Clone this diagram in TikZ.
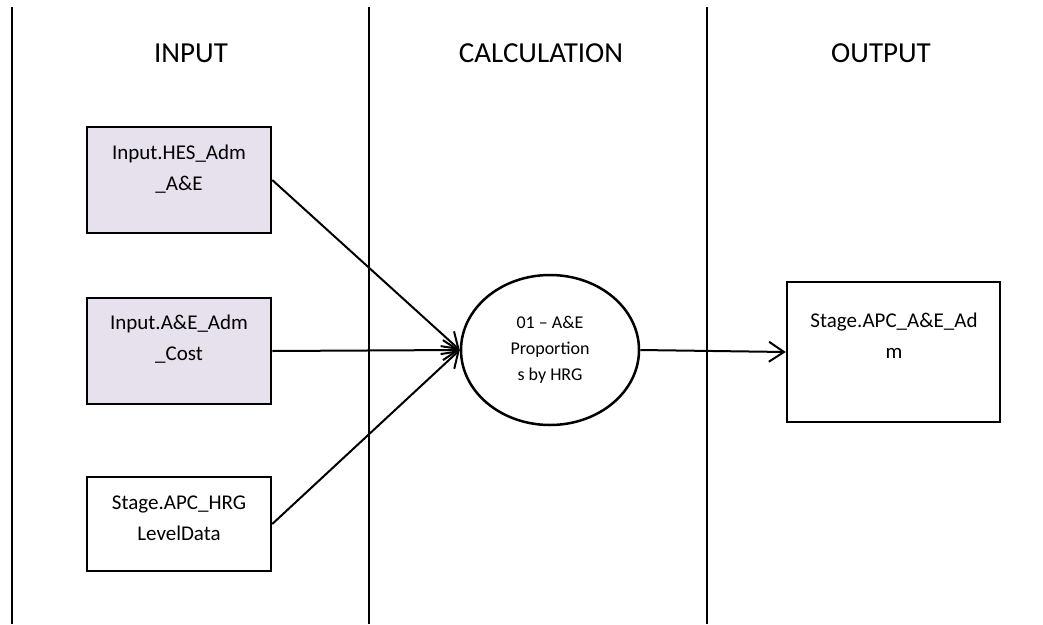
\documentclass[tikz,border=0pt]{standalone}
\usepackage{fontspec}
\setmainfont{Carlito}
\usetikzlibrary{arrows.meta,shapes.geometric}
\definecolor{infill}{RGB}{230,225,237}
\begin{document}
\begin{tikzpicture}[x=1pt,y=-1pt,
  divider/.style={line width=1.5pt,black},
  heading/.style={font=\fontsize{29}{34}\selectfont, anchor=base, inner sep=0pt},
  databox/.style={draw=black, line width=2.5pt, minimum width=184pt, inner sep=0pt},
  inputbox/.style={databox, fill=infill},
  boxtext/.style={font=\fontsize{21}{30.5}\selectfont, align=center, anchor=base, inner sep=0pt},
  process/.style={ellipse, draw=black, line width=2.5pt, minimum width=178pt, minimum height=150pt,
    inner sep=0pt, align=center, font=\fontsize{18}{26}\selectfont},
  flow/.style={line width=2pt, -{Straight Barb[length=15pt,width=20pt,line width=2pt]}}
]
\useasboundingbox (0,0) rectangle (1043,624);

% column dividers
\draw[divider] (12,7) -- (12,624);
\draw[divider] (369,7) -- (369,624);
\draw[divider] (707,7) -- (707,624);

% column headings
\node[heading] (hin)   at (191,62) {INPUT};
\node[heading] (hcalc) at (541,62) {CALCULATION};
\node[heading] (hout)  at (881,62) {OUTPUT};

% input tables (text anchored on the baseline of its last line)
\node[inputbox, minimum height=106pt] (hes)  at (179,180) {};
\node[boxtext] (hestxt) at (179,190) {Input.HES\_Adm\\\_A\&E};

\node[inputbox, minimum height=106pt] (cost) at (179,351) {};
\node[boxtext] (costtxt) at (179,360) {Input.A\&E\_Adm\\\_Cost};

\node[databox, minimum height=94pt] (hrg) at (179,524) {};
\node[boxtext] (hrgtxt) at (179,540) {Stage.APC\_HRG\\LevelData};

% calculation step
\node[process] (calc) at (550,350) {01 – A\&E\\Proportion\\s by HRG};

% output table
\node[databox, minimum width=213pt, minimum height=140pt] (outbox) at (893.5,352) {};
\node[boxtext] (outtxt) at (894,358) {Stage.APC\_A\&E\_Ad\\m};

% flows
\draw[flow] (hes.east) -- (calc.west);
\draw[flow] (cost.east) -- (calc.west);
\draw[flow] (hrg.east) -- (calc.west);
\draw[flow] (calc.east) -- (outbox.west);
\end{tikzpicture}
\end{document}
